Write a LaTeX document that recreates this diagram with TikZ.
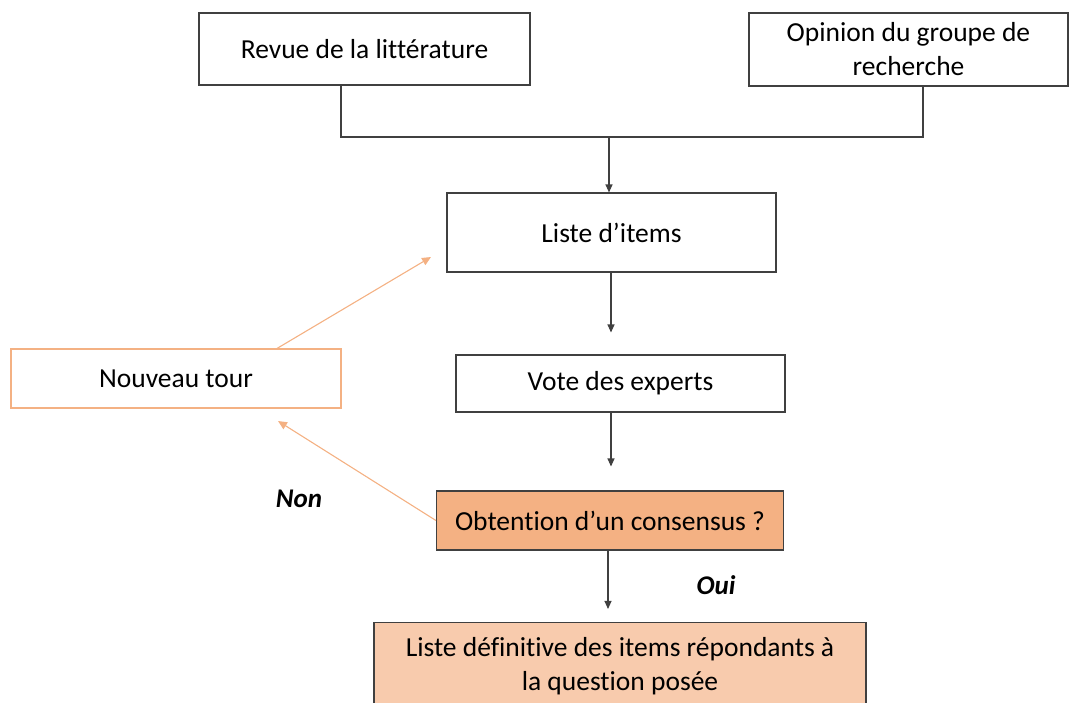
\documentclass[tikz,border=0pt]{standalone}
\usepackage{fontspec}
\setmainfont{Carlito}[Ligatures=NoCommon]
\usetikzlibrary{arrows.meta}
\definecolor{lineg}{HTML}{404040}
\definecolor{orangeA}{HTML}{F4B183}
\definecolor{orangeB}{HTML}{F8CBAD}
\begin{document}
\begin{tikzpicture}[x=1pt,y=-1pt,
  box/.style={draw=lineg,line width=1.1pt,fill=white,inner sep=0pt,align=center,
    font=\fontsize{27.5}{34}\selectfont,text=black},
  conn/.style={draw=lineg,line width=1.1pt},
  arr/.style={conn,-{Triangle[length=8pt,width=7pt]}},
  oarr/.style={draw=orangeA,line width=1.1pt,-{Triangle[length=9pt,width=8pt]}},
  lab/.style={font=\fontsize{27}{30}\selectfont\bfseries\itshape}]
\useasboundingbox (0,0) rectangle (1070,702);
\clip (0,0) rectangle (1070,702);
\node[box,minimum width=331pt,minimum height=72pt] (revue) at (364.5,49) {Revue de la littérature};
\node[box,minimum width=319pt,minimum height=73pt] (opinion) at (908.5,49.5) {Opinion du groupe de\\recherche};
\node[box,minimum width=329pt,minimum height=79pt] (liste) at (611.5,232.5) {Liste d’items};
\node[box,minimum width=329pt,minimum height=57pt] (vote) at (620.5,383.5) {Vote des experts};
\node[box,fill=orangeA,minimum width=347pt,minimum height=59pt] (obt) at (610,520.5) {Obtention d’un consensus ?};
\node[box,fill=orangeB,minimum width=492pt,minimum height=88pt] (final) at (620,666.5) {Liste définitive des items répondants à\\la question posée};
\node[box,draw=orangeA,minimum width=330pt,minimum height=59pt] (nouveau) at (176,378.5) {Nouveau tour};
\node[lab] (non) at (299,499) {Non};
\node[lab] (oui) at (716,585) {Oui};
\coordinate (j) at (609,137);
\draw[conn] (revue.south -| 341,0) |- (j);
\draw[conn] (opinion.south -| 923,0) |- (j);
\draw[arr] (j) -- (liste.north -| j);
\draw[arr] (liste.south -| 611,0) -- ([yshift=22pt]vote.north -| 611,0);
\draw[arr] (vote.south -| 611,0) -- ([yshift=24pt]obt.north -| 611,0);
\draw[arr] (obt.south -| 608,0) -- ([yshift=13pt]final.north -| 608,0);
\draw[oarr] (nouveau.north -| 277,0) -- (431,257);
\draw[oarr] (obt.west) -- (278,421);
\end{tikzpicture}
\end{document}
